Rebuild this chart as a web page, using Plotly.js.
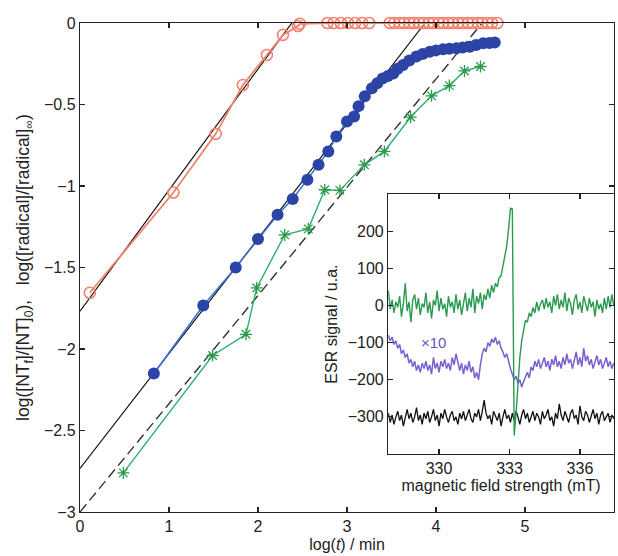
<!DOCTYPE html>
<html>
<head>
<meta charset="utf-8">
<script src="https://cdn.plot.ly/plotly-3.0.1.min.js"></script>
<style>html,body{margin:0;padding:0;background:#fff;}#chart{width:618px;height:556px;}</style>
</head>
<body>
<div id="chart"></div>
<script>
// ---- main panel data (log t / min) ----
const redX = [0.11, 1.05, 1.525, 1.83, 2.10, 2.28, 2.45, 2.47, 2.78, 2.85, 2.93, 3.01, 3.09, 3.17, 3.25, 3.48, 3.53, 3.59, 3.64, 3.70, 3.75, 3.81, 3.86, 3.92, 3.97, 4.03, 4.08, 4.14, 4.19, 4.25, 4.30, 4.36, 4.41, 4.47, 4.52, 4.58, 4.63, 4.69];
const redY = [-1.655, -1.04, -0.68, -0.38, -0.196, -0.073, -0.018, -0.005, 0, 0, 0, 0, 0, 0, 0, 0, 0, 0, 0, 0, 0, 0, 0, 0, 0, 0, 0, 0, 0, 0, 0, 0, 0, 0, 0, 0, 0, 0];

const blueX = [0.83, 1.385, 1.75, 2.00, 2.22, 2.39, 2.555, 2.68, 2.79, 2.88, 3.00, 3.08, 3.13, 3.20, 3.28, 3.34, 3.40, 3.46, 3.52, 3.57, 3.63, 3.70, 3.78, 3.85, 3.93, 4.00, 4.08, 4.15, 4.23, 4.30, 4.38, 4.45, 4.53, 4.60, 4.66];
const blueY = [-2.15, -1.733, -1.50, -1.325, -1.176, -1.08, -0.961, -0.87, -0.788, -0.696, -0.604, -0.574, -0.51, -0.45, -0.40, -0.37, -0.34, -0.325, -0.31, -0.28, -0.257, -0.23, -0.206, -0.19, -0.176, -0.168, -0.161, -0.158, -0.155, -0.15, -0.145, -0.135, -0.124, -0.122, -0.12];

const greenX = [0.487, 1.49, 1.865, 1.985, 2.30, 2.565, 2.75, 2.92, 3.195, 3.42, 3.715, 3.95, 4.15, 4.32, 4.50];
const greenY = [-2.76, -2.04, -1.91, -1.625, -1.30, -1.263, -1.023, -1.027, -0.87, -0.788, -0.577, -0.447, -0.384, -0.294, -0.267];

// fitted straight lines (end points)
const fitRedX = [0, 2.38], fitRedY = [-1.768, 0];
const fitBlueX = [0, 3.877], fitBlueY = [-2.733, 0];
const fitDashX = [0, 4.518], fitDashY = [-3, 0];

const mainXTicks = [0, 1, 2, 3, 4, 5, 6];
const mainYTicks = [0, -0.5, -1, -1.5, -2, -2.5, -3];

// ---- inset data (ESR spectra) ----
const field = [327.84,327.92,328,328.08,328.16,328.24,328.32,328.4,328.48,328.56,
328.64,328.72,328.8,328.88,328.96,329.04,329.12,329.2,329.28,329.36,
329.44,329.52,329.6,329.68,329.76,329.84,329.92,330,330.08,330.16,
330.24,330.32,330.4,330.48,330.56,330.64,330.72,330.8,330.88,330.96,
331.04,331.12,331.2,331.28,331.36,331.44,331.52,331.6,331.68,331.76,
331.84,331.92,332,332.08,332.16,332.24,332.32,332.4,332.48,332.56,
332.64,332.72,332.8,332.88,332.96,333.04,333.12,333.2,333.28,333.36,
333.44,333.52,333.6,333.68,333.76,333.84,333.92,334,334.08,334.16,
334.24,334.32,334.4,334.48,334.56,334.64,334.72,334.8,334.88,334.96,
335.04,335.12,335.2,335.28,335.36,335.44,335.52,335.6,335.68,335.76,
335.84,335.92,336,336.08,336.16,336.24,336.32,336.4,336.48,336.56,
336.64,336.72,336.8,336.88,336.96,337.04,337.12,337.2,337.28,337.36,
337.44];
const esrGreen = [40,-10,15,-20,10,-5,25,-30,5,60,
-15,10,-45,15,30,-10,20,-25,5,-5,
35,-20,10,-35,15,0,40,-15,20,-10,
5,-30,25,-5,10,-20,30,-10,15,-25,
5,35,-15,20,-5,45,-20,25,5,35,
-10,30,15,45,20,55,35,60,50,75,
80,105,125,160,205,262,260,-350,-290,-210,
-140,-95,-65,-40,-45,-20,-30,-5,-20,10,
-15,5,15,-10,20,-5,10,-20,25,0,
30,-10,15,-5,35,-15,20,5,-25,15,
30,-10,10,-20,25,0,-15,20,-5,10,
-30,15,-10,5,-20,20,-10,25,-5,30,
0];
const esrPurple = [-80,-95,-85,-105,-95,-115,-105,-130,-120,-140,
-130,-155,-145,-165,-150,-175,-160,-180,-155,-170,
-150,-175,-160,-185,-140,-170,-155,-180,-150,-165,
-145,-170,-155,-175,-140,-160,-130,-150,-175,-155,
-185,-160,-175,-150,-180,-165,-195,-180,-200,-160,
-130,-115,-125,-100,-110,-90,-100,-85,-105,-95,
-115,-125,-140,-130,-155,-170,-185,-200,-190,-210,
-200,-220,-205,-190,-180,-195,-165,-175,-150,-165,
-145,-170,-155,-140,-165,-150,-175,-145,-160,-135,
-165,-150,-170,-140,-160,-130,-155,-145,-170,-150,
-125,-160,-140,-165,-115,-150,-135,-160,-145,-170,
-150,-135,-160,-145,-170,-155,-140,-165,-150,-170,
-155];
const esrBlack = [-290,-315,-295,-320,-300,-285,-310,-295,-325,-300,
-280,-305,-290,-315,-300,-275,-310,-295,-320,-290,
-305,-285,-315,-300,-280,-310,-295,-325,-290,-305,
-280,-300,-315,-295,-285,-310,-300,-320,-290,-305,
-285,-310,-295,-280,-305,-315,-290,-300,-280,-310,
-285,-255,-290,-305,-295,-320,-285,-300,-310,-290,
-325,-300,-280,-305,-295,-315,-290,-310,-285,-300,
-320,-295,-280,-305,-290,-315,-300,-285,-310,-290,
-300,-320,-285,-305,-295,-280,-310,-300,-325,-290,
-305,-265,-295,-310,-285,-300,-315,-290,-280,-305,
-295,-320,-270,-300,-310,-285,-295,-315,-300,-280,
-305,-290,-320,-295,-285,-310,-300,-290,-315,-295,
-305];
const insetXTicks = [330, 333, 336];
const insetYTicks = [200, 100, 0, -100, -200, -300];

const FONT = 'Liberation Sans, Arial, Helvetica, sans-serif';

const traces = [
  {x: fitRedX, y: fitRedY, mode: 'lines', line: {color: '#111', width: 1.2}, xaxis: 'x', yaxis: 'y', hoverinfo: 'skip'},
  {x: fitBlueX, y: fitBlueY, mode: 'lines', line: {color: '#111', width: 1.2}, xaxis: 'x', yaxis: 'y', hoverinfo: 'skip'},
  {x: fitDashX, y: fitDashY, mode: 'lines', line: {color: '#333', width: 1.4, dash: '10px,5px'}, xaxis: 'x', yaxis: 'y', hoverinfo: 'skip'},
  {x: redX, y: redY, mode: 'lines+markers', cliponaxis: false,
   line: {color: '#f2806e', width: 1.8},
   marker: {symbol: 'circle-open', size: 11, color: '#f2806e', line: {width: 1.6, color: '#f2806e'}}, xaxis: 'x', yaxis: 'y'},
  {x: blueX, y: blueY, mode: 'lines+markers',
   line: {color: '#3b6fd4', width: 1.5},
   marker: {symbol: 'circle', size: 12, color: '#2b44a6'}, xaxis: 'x', yaxis: 'y'},
  {x: greenX, y: greenY, mode: 'lines+markers',
   line: {color: '#2bb070', width: 1.4},
   marker: {symbol: 'asterisk-open', size: 10, color: '#2a9a48', line: {width: 1.3, color: '#2a9a48'}}, xaxis: 'x', yaxis: 'y'},
  {x: field, y: esrBlack, mode: 'lines', line: {color: '#111', width: 1.3}, xaxis: 'x2', yaxis: 'y2'},
  {x: field, y: esrPurple, mode: 'lines', line: {color: '#7a60d0', width: 1.5}, xaxis: 'x2', yaxis: 'y2'},
  {x: field, y: esrGreen, mode: 'lines', line: {color: '#2a9a50', width: 1.4}, xaxis: 'x2', yaxis: 'y2'}
];

const axisCommon = {
  showline: true, linecolor: '#222', linewidth: 1.2, mirror: 'allticks',
  ticks: 'inside', ticklen: 5, tickcolor: '#222', tickwidth: 1.2,
  showgrid: false, zeroline: false, automargin: false,
  tickfont: {family: FONT, size: 16, color: '#222'}
};

const layout = {
  width: 618, height: 556,
  margin: {l: 80, r: 4, t: 23, b: 44},
  paper_bgcolor: '#fff', plot_bgcolor: '#fff',
  showlegend: false,
  font: {family: FONT, color: '#222'},
  xaxis: Object.assign({}, axisCommon, {
    range: [0, 6], tickvals: mainXTicks, domain: [0, 1], anchor: 'y',
    title: {text: 'log(<i>t</i>) / min', font: {family: FONT, size: 16, color: '#222'}, standoff: 4}
  }),
  yaxis: Object.assign({}, axisCommon, {
    range: [-3, 0], tickvals: mainYTicks, domain: [0, 1], anchor: 'x',
    title: {text: 'log([NT<sub>f</sub>]/[NT]<sub>0</sub>),&nbsp;&nbsp; log([radical]/[radical]<sub>∞</sub>)', font: {family: FONT, size: 17.5, color: '#222'}, standoff: 9}
  }),
  xaxis2: Object.assign({}, axisCommon, {
    range: [327.83, 337.45], tickvals: insetXTicks, domain: [0.577, 1], anchor: 'y2',
    title: {text: 'magnetic field strength (mT)', font: {family: FONT, size: 16, color: '#222'}, standoff: 2}
  }),
  yaxis2: Object.assign({}, axisCommon, {
    range: [-400, 300], tickvals: insetYTicks, domain: [0.1186, 0.650], anchor: 'x2',
    title: {text: 'ESR signal / u.a.', font: {family: FONT, size: 16, color: '#222'}, standoff: 6}
  }),
  annotations: [
    {text: '×10', x: 329.75, y: -100, xref: 'x2', yref: 'y2', showarrow: false,
     font: {family: FONT, size: 15, color: '#6a55c8'}}
  ]
};

Plotly.newPlot('chart', traces, layout, {displayModeBar: false, staticPlot: true});
</script>
</body>
</html>
